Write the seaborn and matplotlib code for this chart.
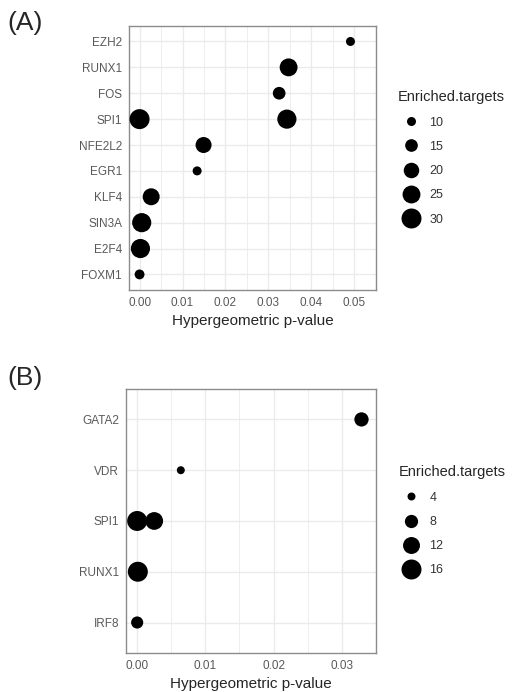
"""Transcription factor enrichment dot plots (two panels)."""

import matplotlib

matplotlib.use("Agg")
import matplotlib.pyplot as plt
import numpy as np
import pandas as pd
import seaborn as sns
from matplotlib.lines import Line2D

# Panel A, listed bottom to top
A_TF = ["FOXM1", "E2F4", "SIN3A", "KLF4", "EGR1", "NFE2L2", "SPI1", "SPI1", "FOS", "RUNX1", "EZH2"]
A_PVALUE = [0.0000, 0.0002, 0.0005, 0.0027, 0.0134, 0.0149, 0.0000, 0.0343, 0.0325, 0.0347, 0.0491]
A_TARGETS = [11, 28, 28, 23, 10, 21, 30, 28, 15, 25, 6]
A_LEGEND = [10, 15, 20, 25, 30]
A_XTICKS = [0.00, 0.01, 0.02, 0.03, 0.04, 0.05]

# Panel B, listed bottom to top
B_TF = ["IRF8", "RUNX1", "SPI1", "SPI1", "VDR", "GATA2"]
B_PVALUE = [0.0000, 0.0001, 0.0000, 0.0025, 0.0064, 0.0329]
B_TARGETS = [7, 17, 16, 13, 2, 9]
B_LEGEND = [4, 8, 12, 16]
B_XTICKS = [0.00, 0.01, 0.02, 0.03]

FONT = ["Liberation Sans", "DejaVu Sans"]
GRID = "#EBEBEB"
BORDER = "#8C8C8C"
TICK_TEXT = "#595959"


def area_for(value, ref, areas):
    """Linear area mapping, same as seaborn's size_norm/sizes."""
    return areas[0] + (value - ref[0]) / (ref[1] - ref[0]) * (areas[1] - areas[0])


def draw_panel(fig, rect, tf, pvalue, targets, legend_vals, xticks, size_ref, areas, label, label_y):
    ax = fig.add_axes(rect)
    df = pd.DataFrame({"tf": tf, "pvalue": pvalue, "targets": targets})
    sns.scatterplot(
        data=df, x="pvalue", y="tf", size="targets",
        sizes=areas, size_norm=size_ref, color="black",
        linewidth=0, legend=False, ax=ax, zorder=3,
    )

    n_cat = len(dict.fromkeys(tf))
    lo, hi = min(pvalue), max(pvalue)
    pad = 0.05 * (hi - lo)
    ax.set_xlim(lo - pad, hi + pad)
    ax.set_ylim(-0.6, n_cat - 0.4)

    ax.set_xticks(xticks)
    ax.set_xticklabels([f"{t:.2f}" for t in xticks])
    minor = np.arange(xticks[0] + 0.005, xticks[-1] + 0.01, 0.01)
    ax.set_xticks(minor, minor=True)
    ax.tick_params(axis="x", which="minor", length=0)
    ax.grid(True, which="major", color=GRID, linewidth=1.0, zorder=0)
    ax.grid(True, which="minor", axis="x", color=GRID, linewidth=0.6, zorder=0)
    ax.set_axisbelow(True)

    ax.tick_params(axis="both", which="major", length=3, width=0.8, color="#333333",
                   labelsize=8.5, labelcolor=TICK_TEXT, pad=2)
    for lab in ax.get_xticklabels() + ax.get_yticklabels():
        lab.set_family(FONT)
    for spine in ax.spines.values():
        spine.set_color(BORDER)
        spine.set_linewidth(1.0)

    ax.set_ylabel("")
    ax.set_xlabel("Hypergeometric p-value", fontsize=11, family=FONT, labelpad=4)

    handles = [
        Line2D([], [], marker="o", linestyle="", color="black", markeredgewidth=0,
               markersize=np.sqrt(area_for(v, size_ref, areas)))
        for v in legend_vals
    ]
    leg = ax.legend(
        handles, [str(v) for v in legend_vals], title="Enriched.targets",
        loc="center left", bbox_to_anchor=(1.065, 0.5), frameon=False,
        borderpad=0, handletextpad=0.5, labelspacing=0.98,
        prop={"family": FONT, "size": 9},
        title_fontproperties={"family": FONT, "size": 10.5},
        alignment="left",
    )
    for txt in leg.get_texts():
        txt.set_color("#333333")

    fig.text(0.014, label_y, label, fontsize=19, family=FONT, ha="left", va="center")
    return ax


def main():
    sns.set_style("white")
    plt.rcParams["font.family"] = FONT
    fig = plt.figure(figsize=(5.12, 6.92), dpi=100)

    draw_panel(fig, [0.252, 0.581, 0.482, 0.3815], A_TF, A_PVALUE, A_TARGETS,
               A_LEGEND, A_XTICKS, (10, 30), (42, 207), "(A)", 0.967)
    draw_panel(fig, [0.246, 0.0564, 0.488, 0.3815], B_TF, B_PVALUE, B_TARGETS,
               B_LEGEND, B_XTICKS, (4, 16), (33, 207), "(B)", 0.454)

    fig.savefig("out.png", dpi=100)


if __name__ == "__main__":
    main()
